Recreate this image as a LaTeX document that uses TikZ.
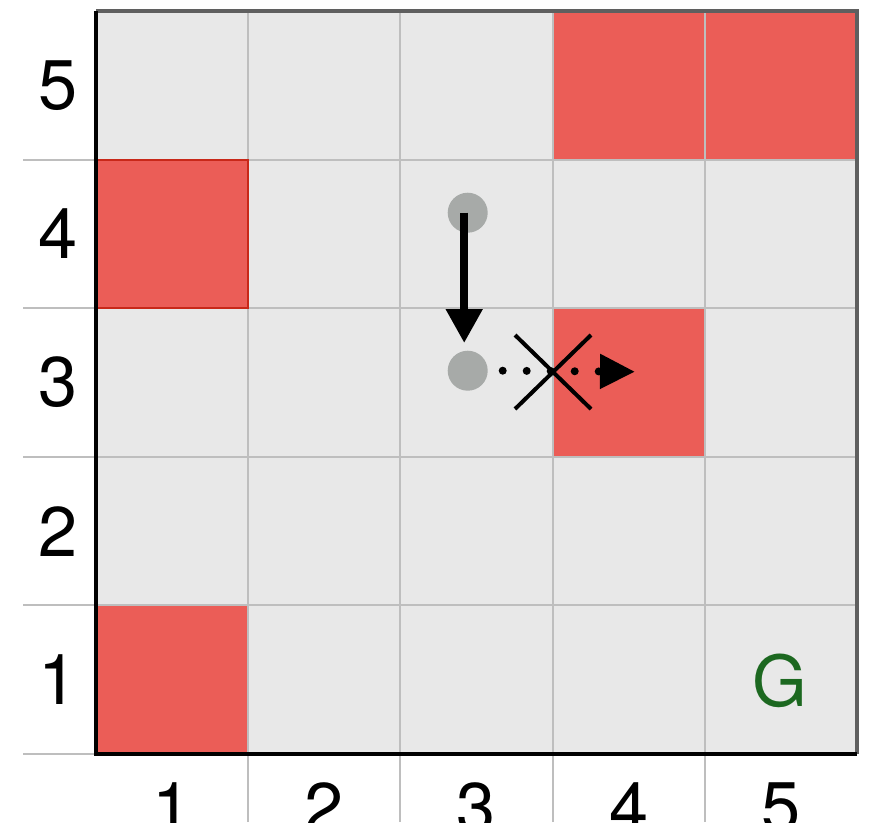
\documentclass[tikz,border=0pt]{standalone}
\usepackage{fontspec}
\setmainfont{TeX Gyre Heros}
\usetikzlibrary{arrows.meta,shapes.misc}
\definecolor{cellgray}{RGB}{232,232,232}
\definecolor{gridgray}{RGB}{190,190,190}
\definecolor{wallred}{RGB}{235,93,87}
\definecolor{walledge}{RGB}{200,40,25}
\definecolor{goalgreen}{RGB}{28,104,32}
\definecolor{agentgray}{RGB}{167,170,168}
\definecolor{framegray}{RGB}{95,95,95}

\begin{document}
\begin{tikzpicture}[x=1.522cm,y=1.486cm,
  lbl/.style={font=\fontsize{20}{24}\selectfont,inner sep=0pt},
  agent/.style={circle,fill=agentgray,minimum size=0.4cm,inner sep=0pt},
  move/.style={-{Triangle[width=0.35cm,length=0.34cm]},line width=0.08cm},
  blocked/.style={-{Triangle[width=0.33cm,length=0.35cm]},line width=0.08cm,line cap=round,dash pattern=on 0pt off 0.24cm}]
\useasboundingbox (-0.96cm,-0.68cm) rectangle (7.74cm,7.54cm);
\fill[cellgray] (0,0) rectangle (5,5);
\foreach \c/\r in {4/5,5/5,1/4,4/3,1/1} \fill[wallred] (\c-1,\r-1) rectangle (\c,\r);
\foreach \i in {0,...,4} \draw[gridgray,line width=0.6pt] (-0.73cm,\i) -- (5,\i);
\foreach \i in {1,...,4} \draw[gridgray,line width=0.6pt] (\i,-0.68cm) -- (\i,5);
\draw[walledge,line width=0.6pt] (0,3) rectangle (1,4);
\draw[framegray,line width=0.9pt] (0,5) -- (5,5) -- (5,0);
\draw[line width=1.1pt] (0,5) -- (0,0) -- (5,0);
% axis numbers
\foreach \i in {1,...,5} {
  \node[lbl] (row\i) at (-0.38cm,\i-0.5) {\i};
  \node[lbl] (col\i) at (\i-0.5,-0.54cm) {\i};
}
\node[lbl,text=goalgreen] (goal) at (6.84cm,0.73cm) {G};
% agent step and blocked step
\node[agent] (s0) at (3.717cm,5.413cm) {};
\node[agent] (s1) at (3.717cm,3.833cm) {};
\draw[move,shorten >=0.07cm] ([xshift=-0.035cm]s0.center) -- ([xshift=-0.035cm]s1.north);
\coordinate (aim) at (5.39cm,3.823cm);
\draw[blocked] ([xshift=0.143cm]s1.east) -- (aim);
\node[cross out,draw,line width=0.04cm,minimum width=0.72cm,minimum height=0.70cm,inner sep=0pt] (nogo) at (4.57cm,3.82cm) {};
\end{tikzpicture}
\end{document}
